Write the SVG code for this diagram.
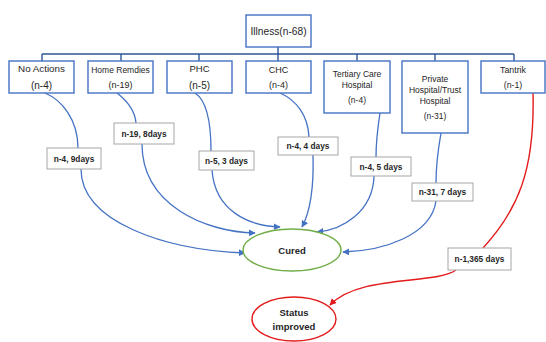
<svg xmlns="http://www.w3.org/2000/svg" width="546" height="342" viewBox="0 0 546 342">
<defs>
<style>
.box{fill:#fff;stroke:#4472c4;stroke-width:1.4}
.lbl{fill:#fff;stroke:#a6a6a6;stroke-width:1}
.t{font-family:"Liberation Sans",Arial,sans-serif;fill:#262626;text-anchor:middle}
.b{font-weight:bold}
.c{fill:none;stroke:#4472c4;stroke-width:1.3}
.r{fill:none;stroke:#e31b1b;stroke-width:1.4}
.bus{fill:none;stroke:#2f5597;stroke-width:1.4}
</style>
<marker id="ab" viewBox="0 0 10 10" refX="9" refY="5" markerWidth="7" markerHeight="7" orient="auto" markerUnits="userSpaceOnUse"><path d="M0,0 L10,5 L0,10 z" fill="#4472c4"/></marker>
<marker id="ar" viewBox="0 0 10 10" refX="9" refY="5" markerWidth="7" markerHeight="7" orient="auto" markerUnits="userSpaceOnUse"><path d="M0,0 L10,5 L0,10 z" fill="#e31b1b"/></marker>
</defs>
<rect width="546" height="342" fill="#fff"/>
<g id="connectors">
<path class="bus" d="M278,47 V54 M42,54 H514 M42,54 V61 M121,54 V61 M199,54 V61 M278,54 V61 M357,54 V61 M435,54 V61 M514,54 V61"/>
<path class="c" d="M45,93 C62,100 78,120 78,148"/>
<path class="c" d="M81,169 C81,222 165,250 245,253" marker-end="url(#ab)"/>
<path class="c" d="M117,93 C126,100 135,110 136,123"/>
<path class="c" d="M142,144 C142,205 205,232 255,233" marker-end="url(#ab)"/>
<path class="c" d="M195,93 C206,100 211,120 211,151"/>
<path class="c" d="M212,170 C215,212 250,226 280,227" marker-end="url(#ab)"/>
<path class="c" d="M280,93 C296,100 308,115 309,137"/>
<path class="c" d="M313,155 C314,190 309,214 302,227" marker-end="url(#ab)"/>
<path class="c" d="M380,113 C378,126 376,140 376,157"/>
<path class="c" d="M374,176 C373,212 342,230 317,232" marker-end="url(#ab)"/>
<path class="c" d="M441,133 C438,150 436,165 436,183"/>
<path class="c" d="M436,201 C431,236 382,251 343,252" marker-end="url(#ab)"/>
<path class="r" d="M533,93 C535,170 518,210 483,248"/>
<path class="r" d="M456,270 C435,285 360,274 330,305" marker-end="url(#ar)"/>
</g>
<g id="illness"><rect class="box" x="246" y="15" width="65" height="32"/><text class="t" x="278.5" y="35" font-size="10.2">Illness(n-68)</text></g>
<g id="no-actions"><rect class="box" x="9" y="61" width="65" height="32"/><text class="t" x="41.5" y="72" font-size="9.8">No Actions</text><text class="t" x="41.5" y="89" font-size="10">(n-4)</text></g>
<g id="home-remdies"><rect class="box" x="88" y="61" width="65" height="32"/><text class="t" x="120.5" y="73" font-size="8.5">Home Remdies</text><text class="t" x="120.5" y="88" font-size="9">(n-19)</text></g>
<g id="phc"><rect class="box" x="167" y="61" width="65" height="32"/><text class="t" x="199.5" y="72" font-size="9.5">PHC</text><text class="t" x="199.5" y="89" font-size="10">(n-5)</text></g>
<g id="chc"><rect class="box" x="246" y="61" width="65" height="32"/><text class="t" x="278.5" y="73" font-size="9">CHC</text><text class="t" x="278.5" y="88" font-size="9">(n-4)</text></g>
<g id="tertiary"><rect class="box" x="324" y="61" width="66" height="52"/><text class="t" x="357" y="77" font-size="8.5">Tertiary Care</text><text class="t" x="357" y="88" font-size="8.5">Hospital</text><text class="t" x="357" y="103" font-size="8.5">(n-4)</text></g>
<g id="private"><rect class="box" x="402" y="61" width="66" height="72"/><text class="t" x="435" y="82" font-size="8.5">Private</text><text class="t" x="435" y="93" font-size="8.5">Hospital/Trust</text><text class="t" x="435" y="103.5" font-size="8.5">Hospital</text><text class="t" x="435" y="119" font-size="8.5">(n-31)</text></g>
<g id="tantrik"><rect class="box" x="481" y="61" width="64" height="32"/><text class="t" x="513" y="73" font-size="8.8">Tantrik</text><text class="t" x="513" y="88" font-size="8.8">(n-1)</text></g>
<g id="l1"><rect class="lbl" x="47" y="148" width="54" height="21"/><text class="t b" x="74" y="161.5" font-size="8.3">n-4, 9days</text></g>
<g id="l2"><rect class="lbl" x="114" y="123" width="60" height="21"/><text class="t b" x="144" y="136.5" font-size="8.3">n-19, 8days</text></g>
<g id="l3"><rect class="lbl" x="199" y="151" width="55" height="19"/><text class="t b" x="226.5" y="163.5" font-size="8.3">n-5, 3 days</text></g>
<g id="l4"><rect class="lbl" x="278" y="137" width="60" height="18"/><text class="t b" x="308" y="149" font-size="8.3">n-4, 4 days</text></g>
<g id="l5"><rect class="lbl" x="351" y="157" width="60" height="19"/><text class="t b" x="381" y="169.5" font-size="8.3">n-4, 5 days</text></g>
<g id="l6"><rect class="lbl" x="412" y="183" width="61" height="18"/><text class="t b" x="442.5" y="195" font-size="8.3">n-31, 7 days</text></g>
<g id="l7"><rect class="lbl" x="448" y="248" width="63" height="22"/><text class="t b" x="479.5" y="262" font-size="8.3">n-1,365 days</text></g>
<g id="cured"><ellipse cx="292" cy="250" rx="49" ry="21" fill="#fff" stroke="#70ad47" stroke-width="1.4"/><text class="t b" x="292" y="253.5" font-size="9.5">Cured</text></g>
<g id="status"><ellipse cx="294" cy="319" rx="42" ry="22" fill="#fff" stroke="#e31b1b" stroke-width="1.4"/><text class="t b" x="294" y="316" font-size="9.5">Status</text><text class="t b" x="294" y="330" font-size="9.5">improved</text></g>
</svg>
